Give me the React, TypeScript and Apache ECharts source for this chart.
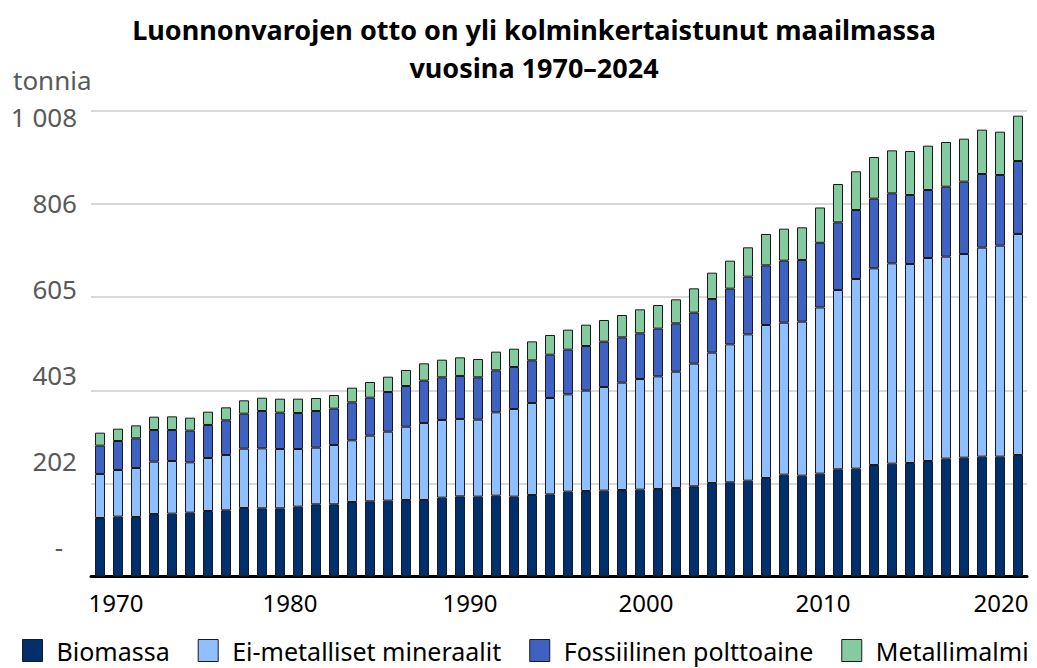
import React, { useEffect, useRef } from "react";
import * as echarts from "echarts";

const years = [
  "1970", "1971", "1972", "1973", "1974", "1975", "1976", "1977", "1978", "1979",
  "1980", "1981", "1982", "1983", "1984", "1985", "1986", "1987", "1988", "1989",
  "1990", "1991", "1992", "1993", "1994", "1995", "1996", "1997", "1998", "1999",
  "2000", "2001", "2002", "2003", "2004", "2005", "2006", "2007", "2008", "2009",
  "2010", "2011", "2012", "2013", "2014", "2015", "2016", "2017", "2018", "2019",
  "2020", "2021",
];

const biomassa = [
  126.7, 129.6, 128.8, 135.3, 136.1, 138.2, 141.8, 143.3, 148.3, 147.6,
  147.6, 151.2, 156.3, 156.3, 161.3, 162.8, 164.2, 165.7, 165.7, 170.7,
  173.6, 172.9, 175.0, 172.9, 176.5, 177.9, 183.7, 185.1, 185.9, 187.3,
  188.0, 189.5, 191.6, 195.3, 202.5, 203.9, 207.5, 213.3, 220.5, 218.3,
  222.7, 232.1, 233.5, 241.4, 244.3, 245.8, 250.1, 255.2, 257.3, 259.5,
  259.5, 263.1,
];

const eiMetalliset = [
  95.3, 101.0, 106.1, 113.4, 114.0, 109.0, 114.8, 119.8, 128.5, 129.9,
  128.5, 124.9, 122.7, 128.4, 133.6, 142.2, 149.4, 158.7, 166.7, 168.2,
  167.5, 166.7, 180.5, 189.8, 199.2, 208.6, 210.8, 217.3, 224.4, 232.4,
  239.7, 243.9, 251.9, 265.6, 282.2, 298.8, 316.9, 331.3, 329.1, 333.5,
  359.8, 388.3, 410.7, 425.9, 433.8, 430.9, 439.6, 437.4, 441.0, 452.6,
  456.9, 478.6,
];

const fossiilinen = [
  61.3, 62.8, 64.3, 68.5, 67.1, 68.6, 71.5, 75.1, 75.8, 80.9,
  78.7, 77.9, 79.4, 78.7, 82.2, 82.2, 85.9, 88.1, 91.7, 92.4,
  93.1, 91.7, 90.9, 91.0, 92.4, 93.8, 96.7, 96.7, 98.2, 98.2,
  98.9, 103.3, 104.7, 110.4, 116.2, 120.6, 124.9, 129.2, 134.3, 133.6,
  140.1, 146.5, 149.4, 150.9, 151.6, 149.4, 147.2, 151.5, 156.7, 159.5,
  153.0, 158.0,
];

const metallimalmi = [
  28.2, 26.7, 28.1, 28.9, 29.6, 28.1, 28.8, 28.1, 28.9, 28.8,
  30.3, 31.1, 28.1, 29.6, 31.8, 34.0, 33.2, 34.7, 37.5, 38.2,
  40.4, 39.7, 40.5, 39.6, 41.1, 42.7, 43.3, 46.2, 46.9, 48.3,
  51.9, 51.2, 52.0, 52.7, 57.0, 60.6, 63.5, 67.9, 69.3, 70.7,
  76.5, 83.0, 83.8, 90.2, 93.1, 95.3, 96.0, 96.8, 93.1, 96.0,
  93.8, 98.2,
];

const seriesNames = ["Biomassa", "Ei-metalliset mineraalit", "Fossiilinen polttoaine", "Metallimalmi"];
const seriesColors = ["#002F6C", "#8FBFFF", "#3F61C1", "#85CBA0"];

const yTickLabels = ["-", "202", "403", "605", "806", "1 008"];
const yMax = 1008;
const yInterval = 201.6;

const titleText = "Luonnonvarojen otto on yli kolminkertaistunut maailmassa\nvuosina 1970–2024";
const unitLabel = "tonnia";

const FONT = "'Noto Sans', 'Open Sans', sans-serif";

// Excel-like drift of tick labels relative to their gridlines (px, positive = up)
const yLabelShift = [30, 22, 15, 8, 1, -6];
// horizontal drift of x labels (px, positive = right)
const xLabelShift = [16, 10, 10, 6, 3, 1];

export default function App() {
  const ref = useRef<HTMLDivElement>(null);

  useEffect(() => {
    if (!ref.current) return;
    const chart = echarts.init(ref.current, undefined, { renderer: "svg" });

    const yRich: Record<string, any> = {};
    yLabelShift.forEach((d, i) => {
      const pad = d >= 0 ? [0, i === 0 ? 14 : 0, 2 * d, 0] : [-2 * d, 0, 0, 0];
      yRich["a" + i] = { fontSize: 26, color: "#595959", fontFamily: FONT, padding: pad };
    });
    const xRich: Record<string, any> = {};
    xLabelShift.forEach((d, i) => {
      xRich["b" + i] = { fontSize: 24, color: "#000", fontFamily: FONT, padding: [0, 0, 0, 2 * d] };
    });

    const data = [biomassa, eiMetalliset, fossiilinen, metallimalmi];

    chart.setOption({
      animation: false,
      backgroundColor: "#ffffff",
      title: {
        text: titleText,
        left: 529,
        top: 5,
        textAlign: "center",
        textStyle: {
          fontFamily: FONT,
          fontWeight: "bold",
          fontSize: 27,
          lineHeight: 38,
          color: "#000",
        },
      },
      graphic: [
        {
          type: "text",
          x: 13,
          y: 80,
          style: {
            text: unitLabel,
            fontFamily: FONT,
            fontSize: 26,
            fill: "#595959",
            verticalAlign: "middle",
          },
        },
      ],
      legend: {
        left: 17,
        top: 633,
        icon: "rect",
        itemWidth: 20,
        itemHeight: 22,
        itemGap: 28,
        data: seriesNames,
        textStyle: { fontFamily: FONT, fontSize: 25, color: "#000", padding: [0, 0, 0, 9] },
        itemStyle: { borderColor: "#1a1a1a", borderWidth: 1 },
      },
      grid: { left: 91, right: 10, top: 111, bottom: 91.5, containLabel: false },
      xAxis: {
        type: "category",
        data: years,
        axisTick: { show: false },
        axisLine: { lineStyle: { color: "#000", width: 3 } },
        axisLabel: {
          interval: (index: number) => index % 10 === 0,
          margin: 14,
          formatter: (v: string, idx: number) => `{b${Math.round(idx / 10)}|${v}}`,
          rich: xRich,
        },
      },
      yAxis: {
        type: "value",
        min: 0,
        max: yMax,
        interval: yInterval,
        axisLine: { show: false },
        axisTick: { show: false },
        splitLine: { lineStyle: { color: "#d9d9d9", width: 2 } },
        axisLabel: {
          margin: 14,
          formatter: (v: number) => {
            const i = Math.round(v / yInterval);
            return `{a${i}|${yTickLabels[i]}}`;
          },
          rich: yRich,
        },
      },
      series: seriesNames.map((name, i) => ({
        name,
        type: "bar",
        stack: "total",
        barWidth: 10,
        data: data[i],
        itemStyle: { color: seriesColors[i], borderColor: "#1a1a1a", borderWidth: 1 },
      })),
    });

    return () => chart.dispose();
  }, []);

  return <div ref={ref} style={{ width: 1037, height: 668, position: "absolute", left: 0, top: 0 }} />;
}
